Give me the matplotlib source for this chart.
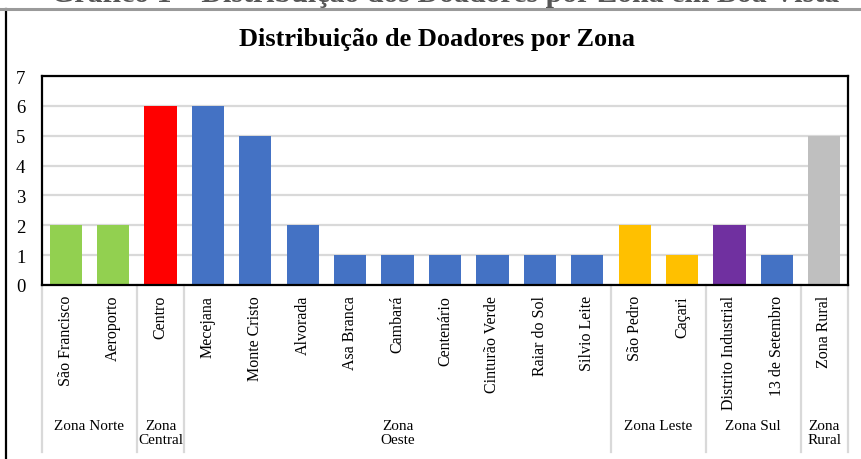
import matplotlib
matplotlib.use("Agg")
import matplotlib.pyplot as plt
from matplotlib.transforms import blended_transform_factory
from matplotlib.lines import Line2D

plt.rcParams['font.family'] = ['Liberation Serif', 'DejaVu Serif']

title = "Distribuição de Doadores por Zona"
caption = "Gráfico 1 – Distribuição dos Doadores por Zona em Boa Vista"

bairros = ["São Francisco", "Aeroporto", "Centro", "Mecejana", "Monte Cristo",
           "Alvorada", "Asa Branca", "Cambará", "Centenário", "Cinturão Verde",
           "Raiar do Sol", "Silvio Leite", "São Pedro", "Caçari",
           "Distrito Industrial", "13 de Setembro", "Zona Rural"]
doadores = [2, 2, 6, 6, 5, 2, 1, 1, 1, 1, 1, 1, 2, 1, 2, 1, 5]
zonas = ["Zona Norte", "Zona\nCentral", "Zona\nOeste", "Zona Leste", "Zona Sul", "Zona\nRural"]
zona_tamanho = [2, 1, 9, 2, 2, 1]
bar_colors = ["#92D050", "#92D050", "#FF0000",
              "#4472C4", "#4472C4", "#4472C4", "#4472C4", "#4472C4", "#4472C4",
              "#4472C4", "#4472C4", "#4472C4",
              "#FFC000", "#FFC000", "#7030A0", "#4472C4", "#BFBFBF"]
yticks = [0, 1, 2, 3, 4, 5, 6, 7]

W, H = 862, 460
fig = plt.figure(figsize=(W / 100, H / 100), dpi=100)

# outer frame
fig.add_artist(Line2D([0, 1], [1 - 9.5 / H, 1 - 9.5 / H], color="#9a9a9a", lw=2.2,
                      transform=fig.transFigure, zorder=5))
fig.add_artist(Line2D([6.5 / W, 6.5 / W], [0, 1 - 9.5 / H], color="black", lw=1.6,
                      transform=fig.transFigure))

# caption cut off at the top edge (only the bottom of the glyphs shows)
fig.text(445 / W, 1 - 1.8 / H, caption, ha="center", va="baseline",
         fontsize=21.5, fontweight="bold", color="#555555", zorder=1)

L, R, T, B = 42, 848, 77, 286
ax = fig.add_axes([L / W, 1 - B / H, (R - L) / W, (B - T) / H])

x = list(range(len(bairros)))
ax.bar(x, doadores, width=0.68, color=bar_colors, zorder=3)
ax.set_xlim(-0.5, len(bairros) - 0.5)
ax.set_ylim(0, 7)
ax.set_yticks(yticks)
ax.set_yticklabels([str(v) for v in yticks], fontsize=13.5)
ax.tick_params(axis="y", length=0, pad=12)
ax.set_xticks([])
ax.grid(axis="y", color="#d9d9d9", lw=1.6, zorder=0)
for s in ax.spines.values():
    s.set_color("black")
    s.set_linewidth(1.6)
ax.spines["bottom"].set_zorder(4)

tr = blended_transform_factory(ax.transData, ax.transAxes)
ph = B - T


def ay(px):
    return (B - px) / ph


# category labels
for xi, name in zip(x, bairros):
    ax.text(xi, ay(296), name, rotation=90, ha="center", va="top",
            fontsize=11.5, transform=tr, clip_on=False)

# group separators and labels
start = 0
bounds = [start - 0.5]
for n in zona_tamanho:
    start += n
    bounds.append(start - 0.5)
for b in bounds:
    ax.add_line(Line2D([b, b], [ay(B), ay(453)], color="#d9d9d9", lw=1.6,
                       transform=tr, clip_on=False))
for i, (z, n) in enumerate(zip(zonas, zona_tamanho)):
    c = (bounds[i] + bounds[i + 1]) / 2
    ax.text(c, ay(420), z, ha="center", va="top", fontsize=11,
            linespacing=1.1, transform=tr, clip_on=False)

fig.text(437 / W, 1 - 40 / H, title, ha="center", va="center",
         fontsize=19, fontweight="bold")

fig.savefig("out.png", dpi=100)
